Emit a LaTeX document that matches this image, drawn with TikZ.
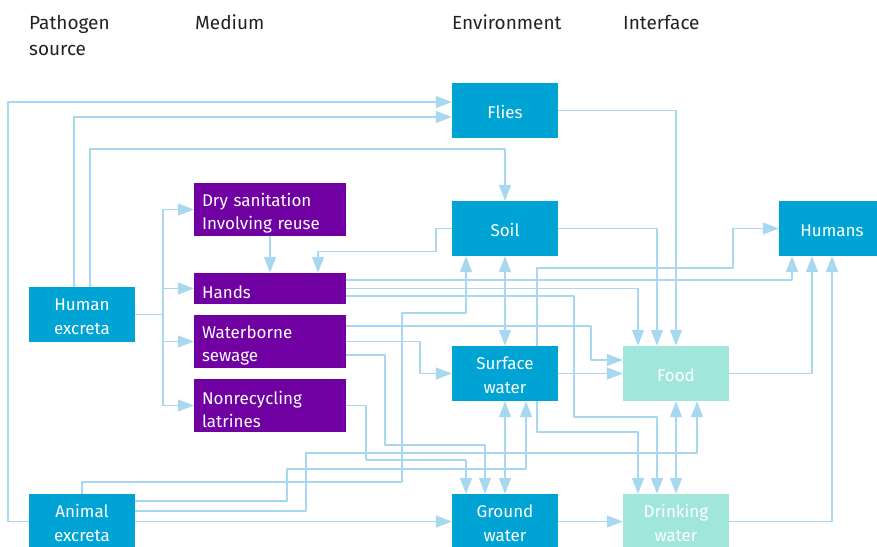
\documentclass[tikz,border=0pt]{standalone}
\usepackage{fontspec}
\setmainfont{Fira Sans}
\usetikzlibrary{arrows.meta}
\definecolor{boxblue}{HTML}{00A4D4}
\definecolor{boxpurple}{HTML}{7000A2}
\definecolor{boxmint}{HTML}{A0E6DA}
\definecolor{linkblue}{HTML}{A8D8F0}
\definecolor{headgray}{HTML}{222222}
\begin{document}
\begin{tikzpicture}[x=1pt, y=-1pt, line join=round, >={Triangle[length=16pt,width=12pt]},
    box/.style={fill=boxblue, text=white, minimum width=106pt, minimum height=55pt, inner sep=0pt, text width=106pt, align=center, font=\fontsize{17}{24}\selectfont, execute at begin node={\rule{0pt}{16.5pt}}},
    iface/.style={box, fill=boxmint},
    medium/.style={fill=boxpurple, text=white, inner xsep=8pt, inner ysep=0pt, text width=136pt, align=left, font=\fontsize{17}{23}\selectfont, execute at begin node={\rule{0pt}{20.5pt}}},
    head/.style={anchor=base west, inner sep=0pt, text=headgray, align=left, font=\fontsize{19}{26}\selectfont},
    link/.style={draw=linkblue, fill=none, line width=1.5pt}]
            \useasboundingbox (0,0) rectangle (877,546);
            \node[head] (srchead) at (29,55) {Pathogen\\source};
            \node[head] (medhead) at (195,29) {Medium};
            \node[head] (envhead) at (452,29) {Environment};
            \node[head] (ifhead) at (623,29) {Interface};
            \node[box] (humanex) at (82,314.5) {Human\\excreta};
            \node[box] (animalex) at (82,521.5) {Animal\\excreta};
            \node[medium, minimum height=53pt] (dry) at (270,209.5) {Dry sanitation\\Involving reuse};
            \node[medium, minimum height=31pt] (hands) at (270,288.5) {Hands};
            \node[medium, minimum height=53pt] (waterborne) at (270,341.5) {Waterborne\\sewage};
            \node[medium, minimum height=53pt] (nonrec) at (270,405.5) {Nonrecycling\\latrines};
            \node[box] (flies) at (505,110.5) {Flies};
            \node[box] (soil) at (505,228.5) {Soil};
            \node[box] (humans) at (832,228.5) {Humans};
            \node[box] (surface) at (505,373.5) {Surface\\water};
            \node[iface] (food) at (676,373.5) {Food};
            \node[box] (ground) at (505,521.5) {Ground\\water};
            \node[iface] (drinking) at (676,521.5) {Drinking\\water};
            \draw[link,->] (animalex.west) -- ++(-21,0) |- ([yshift=8.5]flies.west);
            \draw[link,->] ([xshift=-8]humanex.north) |- ([yshift=-6.5]flies.west);
            \draw[link,->] ([xshift=8]humanex.north) -- ++(0,-138) -| (soil.north);
            \draw[link] (humanex.east) -- ++(28,0) coordinate (hsplit);
            \foreach \m in {dry,hands,waterborne,nonrec}
                \draw[link,->] (hsplit) |- (\m.west);
            \draw[link,->] (dry) -- (hands);
            \draw[link,->] (soil.west) -| ++(-16,23) -| ([xshift=48]hands.north);
            \draw[link,->] (flies.east) -| (food.north);
            \draw[link,->] (soil.east) -| ([xshift=-19]food.north);
            \draw[link,->] ([yshift=8.5]hands.east) -| ([xshift=-40]humans.south);
            \draw[link,->] (hands.east) -| ([xshift=-38]food.north);
            \draw[link,->] ([yshift=-7.5]hands.east) -| ++(228,121) -| ([xshift=-19]drinking.north);
            \draw[link,<->] (soil) -- (surface);
            \draw[link,->] (animalex.north) |- ++(320,-12) |- ++(64,-169) -- ([xshift=-39]soil.south);
            \draw[link,->] (waterborne.east) -- ++(74,0) |- (surface.west);
            \draw[link,->] ([yshift=15.5]waterborne.east) -- ++(245,0) |- ([yshift=13.5]food.west);
            \draw[link,->] ([yshift=-13.5]waterborne.east) -| ++(39,90) -| ([xshift=-20]ground.north);
            \draw[link,->] (nonrec.east) -| ++(20,54.5) -| ([xshift=-39]ground.north);
            \draw[link,->] ([yshift=20.5]animalex.east) -| ++(152,-32) -| ([xshift=21]surface.south);
            \draw[link,->] ([yshift=10.5]animalex.east) -| ++(171,-58) -| ([xshift=21]food.south);
            \draw[link,->] (animalex) -- (ground);
            \draw[link,<->] (surface) -- (ground);
            \draw[link,->] ([xshift=32]surface.north) |- ++(196,-78) |- (humans.west);
            \draw[link,->] (surface) -- (food);
            \draw[link,->] ([xshift=32]surface.south) |- ++(101,31) -- ([xshift=-38]drinking.north);
            \draw[link,<->] (food) -- (drinking);
            \draw[link,->] (food.east) -| ([xshift=-20]humans.south);
            \draw[link,->] (drinking.east) -| (humans.south);
            \draw[link,->] (ground) -- (drinking);
        \end{tikzpicture}
\end{document}
